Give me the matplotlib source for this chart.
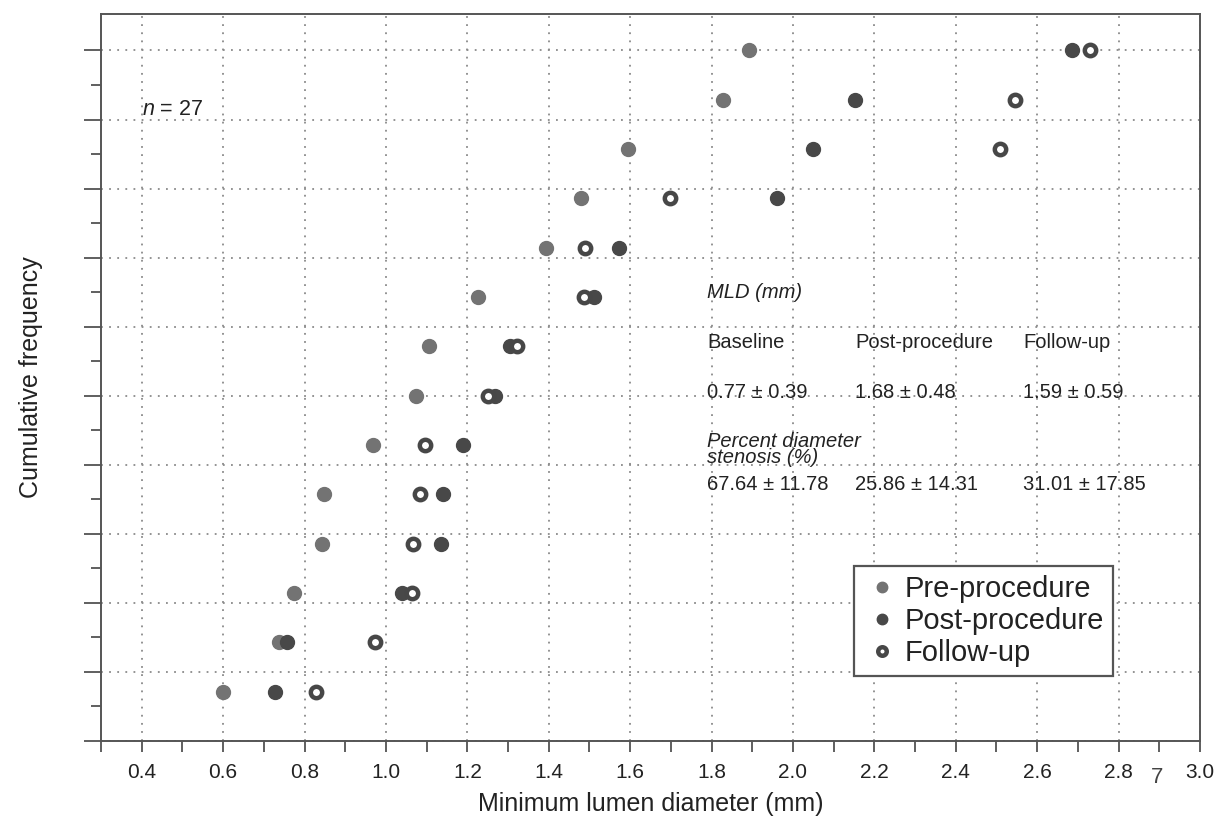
import matplotlib
matplotlib.use("Agg")
from matplotlib import pyplot as plt
import numpy as np

plt.rcParams['font.family'] = ['Liberation Sans', 'DejaVu Sans']
plt.rcParams['mathtext.fontset'] = 'custom'
plt.rcParams['mathtext.it'] = 'Liberation Sans:italic'
plt.rcParams['mathtext.rm'] = 'Liberation Sans'

# minimum lumen diameter (mm), sorted, one row per cumulative step
pre = [0.60, 0.738, 0.775, 0.842, 0.847, 0.968, 1.074, 1.106, 1.227, 1.393, 1.479, 1.595, 1.827, 1.891]
post = [0.728, 0.758, 1.04, 1.136, 1.141, 1.19, 1.269, 1.306, 1.511, 1.573, 1.96, 2.049, 2.153, 2.686]
follow = [0.827, 0.973, 1.064, 1.067, 1.084, 1.096, 1.252, 1.323, 1.486, 1.489, 1.699, 2.509, 2.546, 2.731]
cum = np.arange(1, len(pre) + 1) / len(pre)

row_labels = ["Baseline", "Post-procedure", "Follow-up"]
mld_vals = ["0.77 ± 0.39", "1.68 ± 0.48", "1.59 ± 0.59"]
pds_vals = ["67.64 ± 11.78", "25.86 ± 14.31", "31.01 ± 17.85"]

fig = plt.figure(figsize=(12.17, 8.16), dpi=100)
ax = fig.add_axes([0.083, 0.092, 0.903, 0.891])

ax.plot(pre, cum, 'o', ms=10, color='#737373', mec='#737373', label='Pre-procedure', zorder=3)
ax.plot(post, cum, 'o', ms=10, color='#484848', mec='#484848', label='Post-procedure', zorder=3)
ax.plot(follow, cum, 'o', ms=8.2, mfc='white', mec='#474747', mew=3.2, label='Follow-up', zorder=4)

ax.set_xlim(0.3, 3.0)
ax.set_ylim(0, 1.053)
ax.set_xticks(np.arange(0.4, 3.01, 0.2))
ax.set_xticks(np.arange(0.3, 2.95, 0.2), minor=True)
ax.set_yticks(np.arange(0, 1.01, 0.1))
ax.set_yticks(np.arange(0.05, 1.05, 0.1), minor=True)
ax.set_yticklabels([])
ax.tick_params(axis='x', which='both', direction='out', length=8, width=1.2, color='#444444',
               labelsize=15, pad=8, labelcolor='#222222')
ax.tick_params(axis='y', which='major', direction='out', length=12, width=1.2, color='#444444')
ax.tick_params(axis='y', which='minor', direction='out', length=7, width=1.2, color='#444444')

ax.grid(True, which='major', color='#8a8a8a', linestyle=(0, (1, 3.5)), linewidth=1.3)
ax.set_axisbelow(True)
for s in ax.spines.values():
    s.set_color('#555555')
    s.set_linewidth(1.4)

ax.set_xlabel("Minimum lumen diameter (mm)", fontsize=18, labelpad=7, color='#222222')
ax.set_ylabel("Cumulative frequency", fontsize=18, labelpad=26, color='#222222')

ax.text(0.4, 0.915, r'$n$ = 27', fontsize=15.5, color='#222222', va='center')

# summary table inside the plot
tx = [1.79, 2.153, 2.565]
ax.text(tx[0], 0.649, "MLD (mm)", fontsize=14.5, style='italic', va='center', color='#222222')
for x, lab, v1, v2 in zip(tx, row_labels, mld_vals, pds_vals):
    ax.text(x, 0.577, lab, fontsize=14.5, va='center', color='#222222')
    ax.text(x, 0.504, v1, fontsize=14.5, va='center', color='#222222')
    ax.text(x, 0.371, v2, fontsize=14.5, va='center', color='#222222')
ax.text(tx[0], 0.422, "Percent diameter\nstenosis (%)", fontsize=14.5, style='italic',
        va='center', linespacing=0.85, color='#222222')

leg = ax.legend(loc='lower right', bbox_to_anchor=(0.921, 0.089), borderaxespad=0, fontsize=21,
                handletextpad=0.15, handlelength=1.3, borderpad=0.3, labelspacing=0.15,
                fancybox=False, framealpha=1, edgecolor='#555555', markerscale=0.75)
leg.get_frame().set_linewidth(1.6)
for t in leg.get_texts():
    t.set_color('#222222')

fig.text(0.951, 0.047, "7", fontsize=16, color='#444444', ha='center', va='center')

fig.savefig("out.png", dpi=100, facecolor='white')
